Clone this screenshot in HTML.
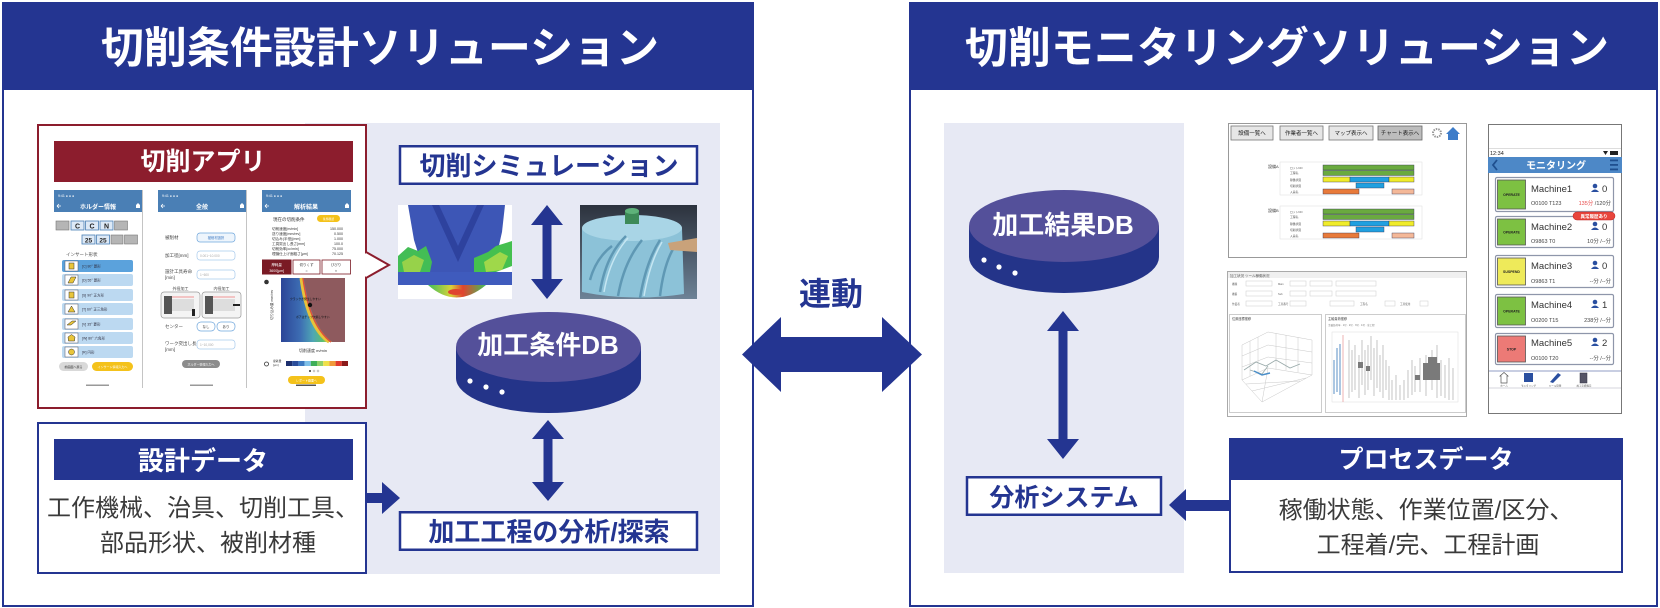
<!DOCTYPE html>
<html><head><meta charset="utf-8">
<style>
html,body{margin:0;padding:0;background:#fff;}
body{width:1660px;height:608px;overflow:hidden;}
svg{display:block;}
text{font-family:"Liberation Sans","Noto Sans CJK JP",sans-serif;}
</style></head><body>
<svg width="1660" height="608" viewBox="0 0 1660 608" xmlns="http://www.w3.org/2000/svg">
<defs>
<linearGradient id="hm" x1="0" x2="1" y1="0" y2="0">
<stop offset="0" stop-color="#2b4597"/><stop offset="0.3" stop-color="#3d6db3"/><stop offset="0.5" stop-color="#4fa6b5"/><stop offset="0.65" stop-color="#5cbf73"/><stop offset="0.78" stop-color="#cfd94a"/><stop offset="1" stop-color="#e9a23a"/>
</linearGradient>
<linearGradient id="bg2" x1="0" x2="0" y1="0" y2="1">
<stop offset="0" stop-color="#2c323d"/><stop offset="1" stop-color="#6d8296"/>
</linearGradient>
<linearGradient id="blob" x1="0" x2="1">
<stop offset="0" stop-color="#3fbf5a"/><stop offset="0.4" stop-color="#d8d23a"/><stop offset="0.6" stop-color="#e0452f"/><stop offset="1" stop-color="#3fbf5a"/>
</linearGradient>
</defs>

<!-- LEFT PANEL -->
<rect x="3" y="3" width="750" height="603" fill="#fff" stroke="#243591" stroke-width="2"/>
<rect x="2" y="2" width="752" height="88" fill="#243591"/>
<text x="380" y="63" font-size="43" font-weight="bold" fill="#fff" text-anchor="middle">切削条件設計ソリューション</text>

<rect x="305" y="123" width="415" height="451" fill="#e7e9f4"/>

<!-- App box -->
<rect x="38" y="125" width="328" height="283" fill="#fff" stroke="#8c1d2d" stroke-width="2"/>
<path d="M366,252 L389,265 L366,278" fill="#fff" stroke="#8c1d2d" stroke-width="2"/>
<rect x="364" y="253.5" width="3" height="23" fill="#fff"/>
<rect x="54" y="141" width="299" height="41" fill="#8c1d2d"/>
<text x="203" y="170" font-size="25" font-weight="bold" fill="#fff" text-anchor="middle">切削アプリ</text>

<!-- Screen 1 -->
<g>
<rect x="54" y="190" width="88" height="197" fill="#fff"/>
<line x1="142.5" y1="190" x2="142.5" y2="388" stroke="#c4c4c4"/>
<rect x="54" y="190" width="88" height="22" fill="#4a7fb5"/>
<text x="58" y="197" font-size="3.5" fill="#fff">9:41 ● ● ●</text>
<text x="98" y="209" font-size="6" font-weight="bold" fill="#fff" text-anchor="middle">ホルダー情報</text>
<path d="M57,206 L61,206 M57,206 L59,204 M57,206 L59,208" stroke="#fff" stroke-width="0.8"/>
<path d="M136,208 L136,205 L138,203 L140,205 L140,208Z" fill="#fff"/>
<rect x="56" y="221" width="13" height="9" fill="#b5b5b5" stroke="#777" stroke-width="0.6"/>
<rect x="71" y="221" width="13" height="9" fill="#dde9f6" stroke="#4a7fb5" stroke-width="0.8"/>
<text x="77.5" y="228.5" font-size="7" fill="#222" text-anchor="middle" font-weight="bold">C</text>
<rect x="85.5" y="221" width="13" height="9" fill="#dde9f6" stroke="#4a7fb5" stroke-width="0.8"/>
<text x="92" y="228.5" font-size="7" fill="#222" text-anchor="middle" font-weight="bold">C</text>
<rect x="100" y="221" width="13" height="9" fill="#dde9f6" stroke="#4a7fb5" stroke-width="0.8"/>
<text x="106.5" y="228.5" font-size="7" fill="#222" text-anchor="middle" font-weight="bold">N</text>
<rect x="114.5" y="221" width="13" height="9" fill="#b5b5b5" stroke="#777" stroke-width="0.6"/>
<rect x="82" y="235" width="13" height="9" fill="#dde9f6" stroke="#4a7fb5" stroke-width="0.8"/>
<text x="88.5" y="242.5" font-size="6.5" fill="#222" text-anchor="middle" font-weight="bold">25</text>
<rect x="96.5" y="235" width="13" height="9" fill="#dde9f6" stroke="#4a7fb5" stroke-width="0.8"/>
<text x="103" y="242.5" font-size="6.5" fill="#222" text-anchor="middle" font-weight="bold">25</text>
<rect x="111" y="235" width="12" height="9" fill="#b5b5b5" stroke="#777" stroke-width="0.6"/>
<rect x="124.5" y="235" width="13" height="9" fill="#b5b5b5" stroke="#777" stroke-width="0.6"/>
<text x="66" y="256" font-size="4.5" fill="#444">インサート形状</text>
<rect x="62" y="260" width="71" height="12" rx="2" fill="#5ba2dc"/>
<rect x="62" y="274" width="71" height="12" rx="2" fill="#bcd9f1"/>
<rect x="62" y="289" width="71" height="12" rx="2" fill="#bcd9f1"/>
<rect x="62" y="303" width="71" height="12" rx="2" fill="#bcd9f1"/>
<rect x="62" y="318" width="71" height="12" rx="2" fill="#bcd9f1"/>
<rect x="62" y="332" width="71" height="12" rx="2" fill="#bcd9f1"/>
<rect x="62" y="346" width="71" height="12" rx="2" fill="#bcd9f1"/>
<g fill="#fff" stroke="#556" stroke-width="0.5">
<rect x="65" y="261" width="13" height="10"/><rect x="65" y="275" width="13" height="10"/><rect x="65" y="290" width="13" height="10"/><rect x="65" y="304" width="13" height="10"/><rect x="65" y="319" width="13" height="10"/><rect x="65" y="333" width="13" height="10"/><rect x="65" y="347" width="13" height="10"/>
</g>
<g fill="#e9c53a" stroke="#333" stroke-width="0.5">
<rect x="69" y="263" width="5" height="6"/><path d="M68,283 L71,277 L76,277 L73,283Z"/><rect x="69" y="292" width="5" height="6"/><path d="M71.5,306 L75,312 L68,312Z"/><path d="M67,325 L72,321 L76,321 L71,325Z"/><path d="M71.5,334.5 L75,337 L74.5,341 L68.5,341 L68,337Z"/><circle cx="71.5" cy="352" r="3"/>
</g>
<g font-size="3.5" fill="#334">
<text x="82" y="267.5">[C] 80° 菱形</text><text x="82" y="281.5">[D] 55° 菱形</text><text x="82" y="296.5">[S] 90° 正方形</text><text x="82" y="310.5">[T] 60° 正三角形</text><text x="82" y="325.5">[V] 35° 菱形</text><text x="82" y="339.5">[W] 80° 六角形</text><text x="82" y="353.5">[R] 円形</text>
</g>
<rect x="59" y="362" width="29" height="9" rx="4.5" fill="#d9d9d9"/>
<text x="73.5" y="368" font-size="3" fill="#333" text-anchor="middle">前画面へ戻る</text>
<rect x="92" y="362" width="41" height="9" rx="4.5" fill="#f4c21b"/>
<text x="112.5" y="368" font-size="3" fill="#fff" text-anchor="middle">インサート情報入力へ</text>
<rect x="86" y="384.5" width="23" height="1.5" fill="#999"/>
</g>

<!-- Screen 2 -->
<g>
<rect x="158" y="190" width="88" height="197" fill="#fff"/>
<line x1="246.5" y1="190" x2="246.5" y2="388" stroke="#c4c4c4"/>
<rect x="158" y="190" width="88" height="22" fill="#4a7fb5"/>
<text x="162" y="197" font-size="3.5" fill="#fff">9:41 ● ● ●</text>
<text x="202" y="209" font-size="6" font-weight="bold" fill="#fff" text-anchor="middle">全般</text>
<path d="M161,206 L165,206 M161,206 L163,204 M161,206 L163,208" stroke="#fff" stroke-width="0.8"/>
<path d="M240,208 L240,205 L242,203 L244,205 L244,208Z" fill="#fff"/>
<g font-size="4.5" fill="#444">
<text x="165" y="239">被削材</text><text x="165" y="257">加工径[mm]</text><text x="165" y="273">設計工具寿命</text><text x="165" y="279">[min]</text>
<text x="165" y="328">センター</text><text x="165" y="345">ワーク突出し長さ</text><text x="165" y="351">[mm]</text>
</g>
<rect x="197" y="233" width="38" height="9" rx="3" fill="#eef5fc" stroke="#6fa6dc" stroke-width="0.7"/>
<text x="216" y="239" font-size="3.3" fill="#3a78c2" text-anchor="middle">被削材選択</text>
<rect x="197" y="251" width="38" height="9" rx="3" fill="#fff" stroke="#a9cbed" stroke-width="0.7"/>
<text x="200" y="257" font-size="3.2" fill="#aaa">0.001~10.000</text>
<rect x="197" y="270" width="38" height="9" rx="3" fill="#fff" stroke="#a9cbed" stroke-width="0.7"/>
<text x="200" y="276" font-size="3.2" fill="#aaa">1~600</text>
<text x="180.5" y="290" font-size="4" fill="#444" text-anchor="middle">外径加工</text>
<text x="221.5" y="290" font-size="4" fill="#444" text-anchor="middle">内径加工</text>
<rect x="161" y="292" width="39" height="26" rx="3" fill="#f4f4f4" stroke="#999" stroke-width="0.7"/>
<rect x="202" y="292" width="39" height="26" rx="3" fill="#f4f4f4" stroke="#999" stroke-width="0.7"/>
<rect x="164" y="296" width="8" height="18" fill="#555"/><rect x="172" y="299" width="22" height="12" fill="#ddd"/>
<line x1="172" y1="297" x2="194" y2="297" stroke="#e33" stroke-width="0.6"/>
<rect x="192" y="309" width="3" height="7" fill="#222"/>
<rect x="205" y="296" width="8" height="18" fill="#555"/><rect x="213" y="299" width="22" height="12" fill="#ddd"/>
<line x1="213" y1="297" x2="235" y2="297" stroke="#e33" stroke-width="0.6"/>
<rect x="233" y="304" width="7" height="2" fill="#222"/>
<rect x="197" y="322" width="18" height="9" rx="4" fill="#fff" stroke="#6fa6dc" stroke-width="0.7"/>
<text x="206" y="328" font-size="3.5" fill="#333" text-anchor="middle">なし</text>
<rect x="217" y="322" width="18" height="9" rx="4" fill="#fff" stroke="#6fa6dc" stroke-width="0.7"/>
<text x="226" y="328" font-size="3.5" fill="#333" text-anchor="middle">あり</text>
<rect x="197" y="340" width="38" height="9" rx="3" fill="#fff" stroke="#a9cbed" stroke-width="0.7"/>
<text x="200" y="346" font-size="3.2" fill="#aaa">1~10,000</text>
<rect x="182" y="360" width="38" height="8" rx="4" fill="#8c8c8c"/>
<text x="201" y="365.5" font-size="3" fill="#fff" text-anchor="middle">ホルダー情報入力へ</text>
<rect x="190" y="384.5" width="23" height="1.5" fill="#999"/>
</g>

<!-- Screen 3 -->
<g>
<rect x="262" y="190" width="89" height="197" fill="#fff"/>
<rect x="262" y="190" width="89" height="22" fill="#4a7fb5"/>
<text x="266" y="197" font-size="3.5" fill="#fff">9:41 ● ● ●</text>
<text x="306" y="209" font-size="6" font-weight="bold" fill="#fff" text-anchor="middle">解析結果</text>
<path d="M265,206 L269,206 M265,206 L267,204 M265,206 L267,208" stroke="#fff" stroke-width="0.8"/>
<path d="M345,208 L345,205 L347,203 L349,205 L349,208Z" fill="#fff"/>
<text x="273" y="221" font-size="4.5" fill="#333">現在の切削条件</text>
<rect x="317" y="215" width="23" height="7" rx="3.5" fill="#f4c21b"/>
<text x="328.5" y="220" font-size="2.8" fill="#fff" text-anchor="middle">条件確認</text>
<g font-size="3.6" fill="#333">
<text x="272" y="230">切削速度[m/min]</text><text x="272" y="235">送り速度[mm/rev]</text><text x="272" y="240">切込み(半径)[mm]</text><text x="272" y="245">工具突出し長さ[mm]</text><text x="272" y="250">切削効率[cc/min]</text><text x="272" y="255">理論仕上げ面粗さ[μm]</text>
</g>
<g font-size="3.6" fill="#333" text-anchor="end">
<text x="343" y="230">150.000</text><text x="343" y="235">0.500</text><text x="343" y="240">1.000</text><text x="343" y="245">100.0</text><text x="343" y="250">75.000</text><text x="343" y="255">70.125</text>
</g>
<rect x="262.5" y="260" width="28.5" height="14" fill="#7a1a24" stroke="#7a1a24"/>
<text x="276.7" y="266" font-size="3.5" fill="#fff" text-anchor="middle">摩耗量</text>
<text x="276.7" y="272" font-size="3.5" fill="#fff" text-anchor="middle">3600[μm]</text>
<rect x="293" y="260" width="27" height="14" fill="#fff" stroke="#7a1a24" stroke-width="0.8"/>
<text x="306.5" y="266" font-size="3.5" fill="#333" text-anchor="middle">切りくず</text>
<text x="306.5" y="272" font-size="3.5" fill="#333" text-anchor="middle">○</text>
<rect x="322" y="260" width="28.5" height="14" fill="#fff" stroke="#7a1a24" stroke-width="0.8"/>
<text x="336" y="266" font-size="3.5" fill="#333" text-anchor="middle">びびり</text>
<text x="336" y="272" font-size="3.5" fill="#333" text-anchor="middle">×</text>
<circle cx="266.5" cy="282" r="2.3" fill="#333"/>
<text x="273" y="320" font-size="3.5" fill="#333" transform="rotate(-90 273 320)">切り込み量 mm/rev</text>
<rect x="281" y="278" width="64" height="64" fill="url(#hm)"/>
<path d="M301,278 C304,300 311,330 329,342" fill="none" stroke="#e8c23a" stroke-width="3"/>
<path d="M303,278 C306,300 313,328 331,342" fill="none" stroke="#e0503a" stroke-width="1.5"/>
<path d="M304,278 C307,300 314,328 332,342 L345,342 L345,278Z" fill="#8e5a5e"/>
<text x="290" y="300" font-size="2.8" fill="#111">クラックが発生しやすい</text>
<text x="296" y="318" font-size="2.8" fill="#111">ボアはチップ欠損しやすい</text>
<circle cx="310" cy="305" r="2.2" fill="#111"/>
<text x="313" y="352" font-size="4" fill="#333" text-anchor="middle">切削速度 m/min</text>
<circle cx="266.5" cy="364" r="2" fill="none" stroke="#333" stroke-width="0.8"/>
<text x="273" y="362" font-size="2.8" fill="#333">摩耗量</text>
<text x="273" y="366" font-size="2.8" fill="#333">[μm]</text>
<rect x="286" y="361" width="6.2" height="5" fill="#1d2f6e"/><rect x="292.2" y="361" width="6.2" height="5" fill="#2b4d9a"/><rect x="298.4" y="361" width="6.2" height="5" fill="#3d78c0"/><rect x="304.6" y="361" width="6.2" height="5" fill="#7fc0e8"/><rect x="310.8" y="361" width="6.2" height="5" fill="#3fae5a"/><rect x="317" y="361" width="6.2" height="5" fill="#8fd06a"/><rect x="323.2" y="361" width="6.2" height="5" fill="#f0e04a"/><rect x="329.4" y="361" width="6.2" height="5" fill="#f09a3a"/><rect x="335.6" y="361" width="6.2" height="5" fill="#e03a2f"/><rect x="341.8" y="361" width="6.2" height="5" fill="#8a1a1a"/>
<circle cx="310" cy="371" r="1" fill="#333"/><circle cx="314" cy="371" r="1" fill="none" stroke="#999" stroke-width="0.5"/><circle cx="318" cy="371" r="1" fill="none" stroke="#999" stroke-width="0.5"/>
<rect x="288" y="376" width="37" height="8" rx="4" fill="#f4c21b"/>
<text x="306.5" y="381.5" font-size="3" fill="#fff" text-anchor="middle">レポート画面へ</text>
<rect x="296" y="384.5" width="20" height="1.5" fill="#555"/>
</g>

<!-- Simulation box -->
<rect x="400" y="146.25" width="297" height="37.5" fill="#fff" stroke="#243591" stroke-width="2.5"/>
<text x="549" y="175" font-size="26" font-weight="bold" fill="#243591" text-anchor="middle">切削シミュレーション</text>

<!-- Sim image 1 -->
<g>
<rect x="398" y="205" width="114" height="94" fill="#fff"/>
<path d="M408,205 L505,205 L502,232 L493,272 L424,272 L414,240 Z" fill="#3d56b6"/>
<path d="M432,205 L458,262 L484,205 L477,205 L458,246 L439,205Z" fill="#2a3d98" opacity="0.8"/>
<path d="M398,256 L408,247 L418,251 L426,246 L432,262 L430,272 L398,272Z" fill="#43bd55"/>
<path d="M402,262 L414,255 L424,260 L420,272 L404,272Z" fill="#97d24a"/>
<path d="M474,258 L488,252 L496,246 L512,241 L512,266 L496,272 L474,272Z" fill="#45c04f"/>
<path d="M484,262 L500,252 L508,256 L502,270 L486,272Z" fill="#9fd84a"/>
<rect x="398" y="272" width="114" height="13" fill="#3f5bbd"/>
<path d="M428,285 Q456,310 486,285 Z" fill="url(#blob)"/>
<ellipse cx="456" cy="292" rx="8" ry="3" fill="#e0452f"/>
</g>

<!-- Sim image 2 -->
<g>
<rect x="580" y="205" width="117" height="94" fill="url(#bg2)"/>
<path d="M582,228 Q632,212 682,228 L684,294 Q632,302 582,292 Z" fill="#8cc2d8"/>
<ellipse cx="632" cy="228" rx="50" ry="13" fill="#a9d5e6"/>
<path d="M600,292 Q606,255 626,236 M618,296 Q624,262 642,240 M640,298 Q646,262 660,240 M660,296 Q664,262 676,244 M590,280 Q596,258 612,246" fill="none" stroke="#5f98b4" stroke-width="2.5"/>
<path d="M604,292 Q610,258 628,238 M644,296 Q650,262 662,242" fill="none" stroke="#c5e6f2" stroke-width="1.5"/>
<rect x="625" y="211" width="14" height="13" fill="#3d8a58"/>
<ellipse cx="632" cy="211" rx="7" ry="3" fill="#5eb27a"/>
<path d="M668,243 L697,238 L697,252 L670,250Z" fill="#c9a27a"/>
</g>

<!-- Vertical arrows left -->
<polygon points="547,205 563,225 551.5,225 551.5,279 563,279 547,299 531,279 542.5,279 542.5,225 531,225" fill="#243591"/>
<polygon points="548,420 564,439 552.5,439 552.5,482 564,482 548,501 532,482 543.5,482 543.5,439 532,439" fill="#243591"/>

<!-- Cylinder 加工条件DB -->
<path d="M456,347 L456,378 A92.5,35 0 0 0 641,378 L641,347 Z" fill="#243489"/>
<ellipse cx="548.5" cy="347" rx="92.5" ry="35" fill="#54509a"/>
<circle cx="470" cy="381" r="2.6" fill="#fff"/><circle cx="486" cy="387" r="2.6" fill="#fff"/><circle cx="502" cy="392" r="2.6" fill="#fff"/>
<text x="548" y="354" font-size="26" font-weight="bold" fill="#fff" text-anchor="middle">加工条件DB</text>

<!-- Analysis/search box -->
<rect x="400" y="512.25" width="297" height="37.5" fill="#fff" stroke="#243591" stroke-width="2.5"/>
<text x="549" y="541" font-size="26" font-weight="bold" fill="#243591" text-anchor="middle">加工工程の分析/探索</text>

<!-- Design data -->
<rect x="38" y="423" width="328" height="150" fill="#fff" stroke="#243591" stroke-width="2"/>
<rect x="54" y="439" width="299" height="41" fill="#243591"/>
<text x="203" y="470" font-size="26" font-weight="bold" fill="#fff" text-anchor="middle">設計データ</text>
<text x="203" y="516" font-size="24" fill="#3a3a3a" text-anchor="middle">工作機械、治具、切削工具、</text>
<text x="208" y="551" font-size="24" fill="#3a3a3a" text-anchor="middle">部品形状、被削材種</text>
<polygon points="400,498 382,482 382,493 367,493 367,503 382,503 382,514" fill="#243591"/>

<!-- CENTER link -->
<text x="831" y="305" font-size="32" font-weight="bold" fill="#243591" text-anchor="middle">連動</text>
<polygon points="742,354.5 781,317 781,337 882,337 882,317 922,354.5 882,392 882,372 781,372 781,392" fill="#243591"/>

<!-- RIGHT PANEL -->
<rect x="910" y="3" width="747" height="603" fill="none" stroke="#243591" stroke-width="2"/>
<rect x="909" y="2" width="749" height="88" fill="#243591"/>
<text x="1287" y="63" font-size="43" font-weight="bold" fill="#fff" text-anchor="middle">切削モニタリングソリューション</text>

<rect x="944" y="123" width="240" height="450" fill="#e7e9f4"/>

<!-- Cylinder 加工結果DB -->
<path d="M969,226 L969,257 A95,36 0 0 0 1159,257 L1159,226 Z" fill="#243489"/>
<ellipse cx="1064" cy="226" rx="95" ry="36" fill="#54509a"/>
<circle cx="984" cy="260" r="2.6" fill="#fff"/><circle cx="999" cy="267" r="2.6" fill="#fff"/><circle cx="1015" cy="273" r="2.6" fill="#fff"/>
<text x="1063" y="234" font-size="26" font-weight="bold" fill="#fff" text-anchor="middle">加工結果DB</text>

<polygon points="1063,311 1079,331 1067.5,331 1067.5,439 1079,439 1063,459 1047,439 1058.5,439 1058.5,331 1047,331" fill="#243591"/>

<rect x="967" y="477.25" width="194" height="37.5" fill="#fff" stroke="#243591" stroke-width="2.5"/>
<text x="1064" y="506" font-size="25" font-weight="bold" fill="#243591" text-anchor="middle">分析システム</text>

<polygon points="1169,505 1186,489 1186,500 1229,500 1229,511 1186,511 1186,521" fill="#243591"/>

<!-- Process data -->
<rect x="1230" y="439" width="392" height="133" fill="#fff" stroke="#243591" stroke-width="2"/>
<rect x="1229" y="438" width="394" height="42" fill="#243591"/>
<text x="1426" y="468" font-size="25" font-weight="bold" fill="#fff" text-anchor="middle">プロセスデータ</text>
<text x="1426" y="518" font-size="24" fill="#3a3a3a" text-anchor="middle">稼働状態、作業位置/区分、</text>
<text x="1428" y="553" font-size="24" fill="#3a3a3a" text-anchor="middle">工程着/完、工程計画</text>

<!-- Monitoring screenshot 1 -->
<g>
<rect x="1228.5" y="123.5" width="238" height="134" fill="#fff" stroke="#999"/>
<rect x="1231" y="126" width="42" height="14" fill="#e6e6e6" stroke="#777" stroke-width="0.8"/>
<text x="1252" y="135" font-size="5.5" fill="#222" text-anchor="middle">設備一覧へ</text>
<rect x="1280" y="126" width="43" height="14" fill="#e6e6e6" stroke="#777" stroke-width="0.8"/>
<text x="1301.5" y="135" font-size="5.5" fill="#222" text-anchor="middle">作業者一覧へ</text>
<rect x="1329" y="126" width="44" height="14" fill="#e6e6e6" stroke="#777" stroke-width="0.8"/>
<text x="1351" y="135" font-size="5.5" fill="#222" text-anchor="middle">マップ表示へ</text>
<rect x="1378" y="126" width="44" height="14" fill="#bdbdbd" stroke="#666" stroke-width="0.8"/>
<text x="1400" y="135" font-size="5.5" fill="#222" text-anchor="middle">チャート表示へ</text>
<circle cx="1437" cy="133" r="4" fill="none" stroke="#999" stroke-width="2" stroke-dasharray="1.5 1"/>
<path d="M1446,134 L1453,127 L1460,134 L1458,134 L1458,140 L1448,140 L1448,134Z" fill="#3d7cc9"/>
<g id="gt">
<text x="1268" y="168" font-size="4" fill="#444">設備A</text>
<rect x="1280" y="162" width="142" height="33" fill="#fff" stroke="#ddd" stroke-width="0.5"/>
<g font-size="2.8" fill="#555"><text x="1290" y="169">ロットNO</text><text x="1290" y="174">工程名</text><text x="1290" y="181">稼働状態</text><text x="1290" y="187">切削状態</text><text x="1290" y="193">人員名</text></g>
<rect x="1323" y="165" width="91" height="5" fill="#6aaa3f" stroke="#335" stroke-width="0.4"/>
<rect x="1323" y="170.5" width="91" height="5" fill="#6aaa3f" stroke="#335" stroke-width="0.4"/>
<rect x="1323" y="177" width="27" height="5" fill="#f0ec2a" stroke="#335" stroke-width="0.4"/>
<rect x="1350" y="177" width="39" height="5" fill="#20a0e0" stroke="#335" stroke-width="0.4"/>
<rect x="1389" y="177" width="25" height="5" fill="#f0ec2a" stroke="#335" stroke-width="0.4"/>
<rect x="1356" y="183" width="28" height="5" fill="#20a0e0" stroke="#335" stroke-width="0.4"/>
<rect x="1323" y="189" width="36" height="5" fill="#e87a3a" stroke="#335" stroke-width="0.4"/>
<rect x="1392" y="189" width="22" height="5" fill="#f4b898" stroke="#335" stroke-width="0.4"/>
</g>
<g transform="translate(0,44)">
<text x="1268" y="168" font-size="4" fill="#444">設備B</text>
<rect x="1280" y="162" width="142" height="33" fill="#fff" stroke="#ddd" stroke-width="0.5"/>
<g font-size="2.8" fill="#555"><text x="1290" y="169">ロットNO</text><text x="1290" y="174">工程名</text><text x="1290" y="181">稼働状態</text><text x="1290" y="187">切削状態</text><text x="1290" y="193">人員名</text></g>
<rect x="1323" y="165" width="91" height="5" fill="#6aaa3f" stroke="#335" stroke-width="0.4"/>
<rect x="1323" y="170.5" width="91" height="5" fill="#6aaa3f" stroke="#335" stroke-width="0.4"/>
<rect x="1323" y="177" width="27" height="5" fill="#f0ec2a" stroke="#335" stroke-width="0.4"/>
<rect x="1350" y="177" width="39" height="5" fill="#20a0e0" stroke="#335" stroke-width="0.4"/>
<rect x="1389" y="177" width="25" height="5" fill="#f0ec2a" stroke="#335" stroke-width="0.4"/>
<rect x="1356" y="183" width="28" height="5" fill="#20a0e0" stroke="#335" stroke-width="0.4"/>
<rect x="1323" y="189" width="36" height="5" fill="#e87a3a" stroke="#335" stroke-width="0.4"/>
<rect x="1392" y="189" width="22" height="5" fill="#f4b898" stroke="#335" stroke-width="0.4"/>
</g>
</g>

<!-- Monitoring screenshot 2 -->
<g>
<rect x="1227.5" y="271.5" width="239" height="145" fill="#fff" stroke="#aaa"/>
<rect x="1228" y="272" width="238" height="6" fill="#f0f0f0"/>
<text x="1230" y="277" font-size="3.5" fill="#555">加工状況 ツール稼働状況</text>
<g fill="#fff" stroke="#ccc" stroke-width="0.5">
<rect x="1246" y="281" width="26" height="5"/><rect x="1290" y="281" width="16" height="5"/><rect x="1310" y="281" width="22" height="5"/><rect x="1336" y="281" width="40" height="5"/>
<rect x="1246" y="291" width="26" height="5"/><rect x="1290" y="291" width="16" height="5"/><rect x="1310" y="291" width="22" height="5"/><rect x="1336" y="291" width="40" height="5"/>
<rect x="1246" y="301" width="26" height="5"/><rect x="1290" y="301" width="16" height="5"/><rect x="1330" y="301" width="24" height="5"/><rect x="1385" y="301" width="10" height="5"/><rect x="1420" y="301" width="8" height="5"/>
</g>
<g font-size="2.6" fill="#666"><text x="1232" y="285">機種</text><text x="1232" y="295">機番</text><text x="1232" y="305">作業者</text><text x="1278" y="285">Main</text><text x="1278" y="295">Sub</text><text x="1278" y="305">工具番号</text><text x="1360" y="305">工程名</text><text x="1400" y="305">工具使用</text></g>
<rect x="1229.5" y="314.5" width="92" height="98" fill="#fff" stroke="#ccc"/>
<text x="1232" y="320" font-size="3.2" fill="#444">位置座標推移</text>
<g stroke="#c8c8c8" stroke-width="0.5" fill="none">
<path d="M1242,345 L1268,332 L1312,340 L1312,375 L1268,368 L1242,380Z"/>
<path d="M1250,341 L1250,376 M1258,337 L1258,372 M1276,333 L1276,369 M1286,335 L1286,370 M1298,337 L1298,372 M1242,356 L1268,345 L1312,352 M1242,367 L1268,357 L1312,363"/>
<path d="M1242,380 L1262,402 L1312,375 M1262,402 L1268,368"/>
<path d="M1246,384 L1300,381 M1252,391 L1306,378"/>
</g>
<path d="M1244,370 L1256,362 L1266,366 L1276,360 L1290,368 L1300,364 M1250,370 L1262,374 L1268,366" fill="none" stroke="#9aa" stroke-width="0.8"/>
<path d="M1254,371 L1262,375 L1270,373" fill="none" stroke="#4a8ec8" stroke-width="1.5"/>
<rect x="1325.5" y="314.5" width="140" height="98" fill="#fff" stroke="#ccc"/>
<text x="1328" y="320" font-size="3.2" fill="#444">主軸負荷推移</text>
<text x="1328" y="326" font-size="2.5" fill="#777">主軸負荷率 · 1号 · 2号 · 3号 · 4号 · 全工程</text>
<rect x="1332" y="332" width="126" height="70" fill="none" stroke="#ddd" stroke-width="0.5"/>
<g stroke="#b5b5b5" stroke-width="0.8">
<line x1="1349" y1="340" x2="1349" y2="398"/><line x1="1352" y1="350" x2="1352" y2="392"/><line x1="1355" y1="345" x2="1355" y2="390"/><line x1="1359" y1="355" x2="1359" y2="398"/><line x1="1362" y1="340" x2="1362" y2="385"/><line x1="1365" y1="350" x2="1365" y2="395"/><line x1="1368" y1="345" x2="1368" y2="390"/><line x1="1371" y1="336" x2="1371" y2="380"/><line x1="1374" y1="348" x2="1374" y2="396"/><line x1="1377" y1="340" x2="1377" y2="388"/><line x1="1380" y1="355" x2="1380" y2="392"/><line x1="1383" y1="345" x2="1383" y2="398"/><line x1="1386" y1="360" x2="1386" y2="390"/><line x1="1389" y1="366" x2="1389" y2="400"/><line x1="1392" y1="380" x2="1392" y2="400"/><line x1="1396" y1="375" x2="1396" y2="400"/><line x1="1400" y1="385" x2="1400" y2="400"/><line x1="1404" y1="380" x2="1404" y2="400"/><line x1="1408" y1="370" x2="1408" y2="398"/><line x1="1412" y1="360" x2="1412" y2="395"/><line x1="1415" y1="366" x2="1415" y2="392"/><line x1="1420" y1="358" x2="1420" y2="392"/><line x1="1426" y1="355" x2="1426" y2="396"/><line x1="1432" y1="350" x2="1432" y2="390"/><line x1="1437" y1="345" x2="1437" y2="398"/><line x1="1441" y1="360" x2="1441" y2="396"/><line x1="1445" y1="365" x2="1445" y2="398"/><line x1="1449" y1="358" x2="1449" y2="400"/><line x1="1453" y1="368" x2="1453" y2="400"/>
</g>
<g stroke="#5a8fc4" stroke-width="1"><line x1="1334" y1="360" x2="1334" y2="394"/><line x1="1337" y1="348" x2="1337" y2="392"/><line x1="1340" y1="344" x2="1340" y2="395"/></g>
<line x1="1343" y1="335" x2="1343" y2="402" stroke="#e8a0a0" stroke-width="0.8"/>
<g fill="#7a7a7a"><rect x="1358" y="362" width="5" height="6"/><rect x="1366" y="366" width="4" height="5"/><rect x="1415" y="375" width="5" height="5"/><rect x="1423" y="363" width="17" height="17"/><rect x="1428" y="357" width="9" height="6"/></g>
</g>

<!-- Phone -->
<g>
<rect x="1488.5" y="124.5" width="133" height="289" fill="#fff" stroke="#777"/>
<line x1="1489" y1="148.5" x2="1621" y2="148.5" stroke="#bbb" stroke-width="0.5"/>
<text x="1490" y="155" font-size="5.5" fill="#222">12:34</text>
<rect x="1610" y="151" width="8" height="4" fill="#222"/><path d="M1603,151 L1608,151 L1605.5,155Z" fill="#222"/>
<rect x="1488" y="157" width="134" height="16" fill="#4d88c7"/>
<path d="M1497,160 L1493,165 L1497,170" fill="none" stroke="#1f4f8f" stroke-width="1.8"/>
<text x="1556" y="169" font-size="10" font-weight="bold" fill="#fff" text-anchor="middle">モニタリング</text>
<g fill="#1f4f8f"><rect x="1610" y="159.5" width="8" height="1.8"/><rect x="1610" y="164" width="8" height="1.8"/><rect x="1610" y="168.5" width="8" height="1.8"/></g>

<g>
<rect x="1495.5" y="177.5" width="118" height="34" rx="1.5" fill="#fff" stroke="#8e96aa" stroke-width="1.2"/>
<rect x="1497.5" y="180" width="28" height="29" fill="#7dc142" stroke="#555" stroke-width="0.8"/>
<text x="1511.5" y="196" font-size="3.5" font-weight="bold" fill="#222" text-anchor="middle">OPERATE</text>
<text x="1531" y="192" font-size="9.5" fill="#333">Machine1</text>
<circle cx="1595" cy="186" r="2.3" fill="#2a4fa0"/><path d="M1591,192 Q1595,187 1599,192Z" fill="#2a4fa0"/>
<text x="1602" y="192" font-size="9.5" fill="#333">0</text>
<text x="1531" y="205" font-size="5.5" fill="#444">O0100 T123</text>
<text x="1611" y="205" font-size="5.5" fill="#444" text-anchor="end"><tspan fill="#e84a4a">135分</tspan> /120分</text>
</g>
<g>
<rect x="1495.5" y="216.5" width="118" height="31" rx="1.5" fill="#fff" stroke="#8e96aa" stroke-width="1.2"/>
<rect x="1497.5" y="219" width="28" height="26" fill="#7dc142" stroke="#555" stroke-width="0.8"/>
<text x="1511.5" y="233.5" font-size="3.5" font-weight="bold" fill="#222" text-anchor="middle">OPERATE</text>
<text x="1531" y="230" font-size="9.5" fill="#333">Machine2</text>
<circle cx="1595" cy="224" r="2.3" fill="#2a4fa0"/><path d="M1591,230 Q1595,225 1599,230Z" fill="#2a4fa0"/>
<text x="1602" y="230" font-size="9.5" fill="#333">0</text>
<text x="1531" y="243" font-size="5.5" fill="#444">O9863 T0</text>
<text x="1611" y="243" font-size="5.5" fill="#444" text-anchor="end">10分 /--分</text>
<rect x="1573" y="212" width="42" height="8" rx="4" fill="#e8453c" stroke="#b22" stroke-width="0.5"/>
<text x="1594" y="218" font-size="4.5" font-weight="bold" fill="#fff" text-anchor="middle">異常履歴あり</text>
</g>
<g>
<rect x="1495.5" y="255.5" width="118" height="32" rx="1.5" fill="#fff" stroke="#8e96aa" stroke-width="1.2"/>
<rect x="1497.5" y="258" width="28" height="27" fill="#eeea5a" stroke="#555" stroke-width="0.8"/>
<text x="1511.5" y="273" font-size="3.5" font-weight="bold" fill="#222" text-anchor="middle">SUSPEND</text>
<text x="1531" y="269" font-size="9.5" fill="#333">Machine3</text>
<circle cx="1595" cy="263" r="2.3" fill="#2a4fa0"/><path d="M1591,269 Q1595,264 1599,269Z" fill="#2a4fa0"/>
<text x="1602" y="269" font-size="9.5" fill="#333">0</text>
<text x="1531" y="283" font-size="5.5" fill="#444">O9863 T1</text>
<text x="1611" y="283" font-size="5.5" fill="#444" text-anchor="end">--分 /--分</text>
</g>
<g>
<rect x="1495.5" y="294.5" width="118" height="33" rx="1.5" fill="#fff" stroke="#8e96aa" stroke-width="1.2"/>
<rect x="1497.5" y="297" width="28" height="28" fill="#7dc142" stroke="#555" stroke-width="0.8"/>
<text x="1511.5" y="312.5" font-size="3.5" font-weight="bold" fill="#222" text-anchor="middle">OPERATE</text>
<text x="1531" y="308" font-size="9.5" fill="#333">Machine4</text>
<circle cx="1595" cy="302" r="2.3" fill="#2a4fa0"/><path d="M1591,308 Q1595,303 1599,308Z" fill="#2a4fa0"/>
<text x="1602" y="308" font-size="9.5" fill="#333">1</text>
<text x="1531" y="322" font-size="5.5" fill="#444">O0200 T15</text>
<text x="1611" y="322" font-size="5.5" fill="#444" text-anchor="end">238分 /--分</text>
</g>
<g>
<rect x="1495.5" y="333.5" width="118" height="31" rx="1.5" fill="#fff" stroke="#8e96aa" stroke-width="1.2"/>
<rect x="1497.5" y="336" width="28" height="26" fill="#ec7a76" stroke="#555" stroke-width="0.8"/>
<text x="1511.5" y="350.5" font-size="3.5" font-weight="bold" fill="#222" text-anchor="middle">STOP</text>
<text x="1531" y="346" font-size="9.5" fill="#333">Machine5</text>
<circle cx="1595" cy="340" r="2.3" fill="#2a4fa0"/><path d="M1591,346 Q1595,341 1599,346Z" fill="#2a4fa0"/>
<text x="1602" y="346" font-size="9.5" fill="#333">2</text>
<text x="1531" y="360" font-size="5.5" fill="#444">O0100 T20</text>
<text x="1611" y="360" font-size="5.5" fill="#444" text-anchor="end">--分 /--分</text>
</g>
<line x1="1489" y1="371" x2="1621" y2="371" stroke="#6b7bb0" stroke-width="0.8"/>
<path d="M1500,376 L1504,372.5 L1508,376 L1507,376 L1507,383 L1501,383 L1501,376Z" fill="#fff" stroke="#555" stroke-width="0.7"/>
<rect x="1524" y="373" width="9" height="9" fill="#2a4fa0"/>
<path d="M1550,382 L1558,373 L1561,375 L1553,383Z" fill="#2a4fa0"/>
<rect x="1580" y="373" width="7" height="10" fill="#556" stroke="#334" stroke-width="0.5"/>
<g font-size="2.5" fill="#555" text-anchor="middle"><text x="1504" y="386.5">ホーム</text><text x="1528.5" y="386.5">モニタリング</text><text x="1555" y="386.5">ツール管理</text><text x="1584" y="386.5">加工実績報告</text></g>
<line x1="1489" y1="388" x2="1621" y2="388" stroke="#aab" stroke-width="0.6"/>
</g>
</svg>
</body></html>
